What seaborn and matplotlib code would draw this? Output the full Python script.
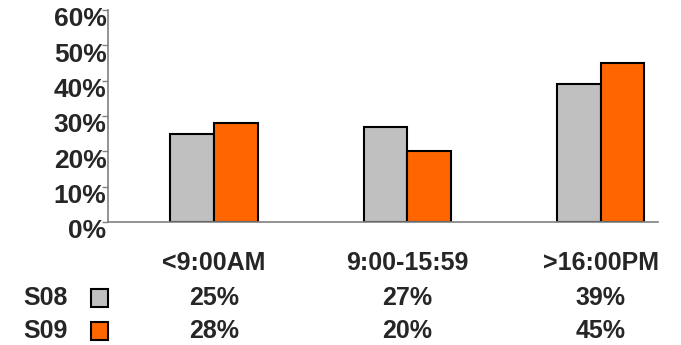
import pandas as pd
import seaborn as sns
from matplotlib import pyplot as plt
from matplotlib.patches import Rectangle
from matplotlib.transforms import ScaledTranslation

#%% data
categories = ['<9:00AM', '9:00-15:59', '>16:00PM']
s08 = [25, 27, 39]
s09 = [28, 20, 45]
series = ['S08', 'S09']
colors = {'S08': '#C0C0C0', 'S09': '#FF6600'}

df = pd.DataFrame({
    'slot': categories * 2,
    'share': [v / 100 for v in s08 + s09],
    'series': ['S08'] * 3 + ['S09'] * 3,
})

#%% plot
sns.set_style('white')
plt.rcParams['font.family'] = ['Liberation Sans', 'DejaVu Sans']
plt.rcParams['font.weight'] = 'bold'

fig = plt.figure(figsize=(6.81, 3.45), dpi=100)
ax = fig.add_axes([108 / 681, 1 - 222 / 345, 550 / 681, 212 / 345])

sns.barplot(data=df, x='slot', y='share', hue='series', order=categories,
            palette=colors, width=0.45, edgecolor='black', linewidth=1.5,
            saturation=1, legend=False, ax=ax)

ax.set_xlim(-0.548, 2.295)
ax.set_ylim(0, 0.6)
ax.set_yticks([i / 10 for i in range(7)])
ax.set_yticklabels([f'{i * 10}%' for i in range(7)], fontsize=19, fontweight='bold')
ax.tick_params(axis='y', left=True, length=4, width=1, color='#808080', pad=-3)
# labels sit a bit below their ticks in the original
shift = ScaledTranslation(0, -7 / 100, fig.dpi_scale_trans)
for lab in ax.get_yticklabels():
    lab.set_transform(lab.get_transform() + shift)
ax.set_xticks(range(3))
ax.set_xticklabels(categories, fontsize=18, fontweight='bold')
ax.tick_params(axis='x', bottom=False, length=0, pad=21)
ax.set_xlabel('')
ax.set_ylabel('')
for side in ['top', 'right']:
    ax.spines[side].set_visible(False)
for side in ['left', 'bottom']:
    ax.spines[side].set_color('#808080')
    ax.spines[side].set_linewidth(1.2)

#%% table rows under the chart
row_y = {'S08': 298, 'S09': 331}
vals = {'S08': s08, 'S09': s09}
to_fig = fig.transFigure.inverted()
for s in series:
    yf = 1 - row_y[s] / 345
    fig.text(45 / 681, yf, s, ha='center', va='center', fontsize=18, fontweight='bold')
    fig.patches.append(Rectangle((91 / 681, yf - 9 / 345), 17 / 681, 18 / 345,
                                 transform=fig.transFigure, facecolor=colors[s],
                                 edgecolor='black', linewidth=1.5))
    for i, v in enumerate(vals[s]):
        xf = to_fig.transform(ax.transData.transform((i, 0)))[0]
        fig.text(xf, yf, f'{v}%', ha='center', va='center', fontsize=18,
                 fontweight='bold')

fig.savefig('out.png', dpi=100)
